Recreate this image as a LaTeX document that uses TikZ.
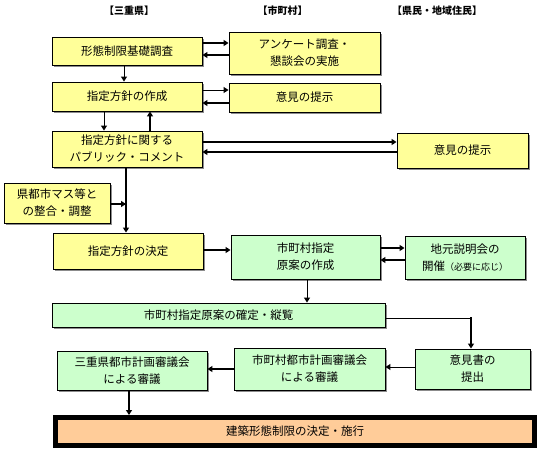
\documentclass[tikz,border=0pt]{standalone}
\usepackage{fontspec}
\newfontfamily\jp{Noto Sans CJK JP}
\usetikzlibrary{arrows.meta,shadows}
\definecolor{ylw}{HTML}{FFFF99}
\definecolor{grn}{HTML}{CCFFCC}
\definecolor{org}{HTML}{FFCC99}
\begin{document}
\begin{tikzpicture}[x=1pt,y=-1pt,
 box/.style={draw=black, line width=0.9pt, align=center, inner sep=0pt,
   font=\jp\fontsize{11.5}{17}\selectfont,
   drop shadow={shadow xshift=2pt, shadow yshift=-2pt, fill=black!45, opacity=1}},
 ybox/.style={box, fill=ylw},
 gbox/.style={box, fill=grn},
 obox/.style={draw=black, line width=5pt, fill=org, align=center, inner sep=0pt,
   font=\jp\fontsize{11.5}{17}\selectfont},
 hdr/.style={font=\jp\bfseries\fontsize{10}{12}\selectfont, inner sep=0pt},
 thk/.style={line width=2.2pt, -{Triangle[length=5pt,width=6pt]}},
 thn/.style={line width=1pt, -{Triangle[length=5pt,width=6pt]}},
 pln/.style={line width=1pt},
]
\useasboundingbox (0,0) rectangle (541,455);
% headers
\node[hdr] (h1) at (129,11) {【三重県】};
\node[hdr] (h2) at (282.5,11) {【市町村】};
\node[hdr] (h3) at (437,11) {【県民・地域住民】};
% boxes
\node[ybox, minimum width=150pt, minimum height=28pt] (b1) at (127,51) {形態制限基礎調査};
\node[ybox, minimum width=150pt, minimum height=29pt] (b2) at (127,96.5) {指定方針の作成};
\node[ybox, minimum width=150pt, minimum height=36pt] (b3) at (127,149) {指定方針に関する\\パブリック・コメント};
\node[ybox, minimum width=151pt, minimum height=42pt] (m1) at (304.5,53) {アンケート調査・\\懇談会の実施};
\node[ybox, minimum width=151pt, minimum height=29pt] (m2) at (304.5,97.5) {意見の提示};
\node[ybox, minimum width=131pt, minimum height=35pt] (r3) at (462.5,150.5) {意見の提示};
\node[ybox, minimum width=106pt, minimum height=40pt] (k) at (57,203) {県都市マス等と\\の整合・調整};
\node[ybox, minimum width=150pt, minimum height=36pt] (b4) at (128,251) {指定方針の決定};
\node[gbox, minimum width=149pt, minimum height=44pt] (g1) at (305.5,257) {市町村指定\\原案の作成};
\node[gbox, minimum width=120pt, minimum height=43pt] (g2) at (465,257.5) {地元説明会の\\開催{\fontsize{9}{17}\selectfont （必要に応じ）}};
\node[gbox, minimum width=333pt, minimum height=24pt] (w) at (218.5,315) {市町村指定原案の確定・縦覧};
\node[gbox, minimum width=150pt, minimum height=39pt] (s1) at (132,370.5) {三重県都市計画審議会\\による審議};
\node[gbox, minimum width=151pt, minimum height=42pt] (s2) at (309.5,369) {市町村都市計画審議会\\による審議};
\node[gbox, minimum width=115pt, minimum height=40pt] (o) at (472.5,369) {意見書の\\提出};
\node[obox, minimum width=479pt, minimum height=28pt] (f) at (295,431.5) {建築形態制限の決定・施行};
% connectors
\draw[thk] (b1.east |- 0,43) -- (m1.west |- 0,43);
\draw[thk] (m1.west |- 0,55) -- (b1.east |- 0,55);
\draw[thn] (b1.south -| 124,0) -- (b2.north -| 124,0);
\draw[thn] (b2.east |- 0,90) -- (m2.west |- 0,90);
\draw[thk] (m2.west |- 0,103) -- (b2.east |- 0,103);
\draw[thn] (b2.south -| 104,0) -- (b3.north -| 104,0);
\draw[thk] (b3.north -| 150,0) -- (b2.south -| 150,0);
\draw[thk] (b3.east |- 0,142) -- (r3.west |- 0,142);
\draw[thk] (r3.west |- 0,152) -- (b3.east |- 0,152);
\coordinate (vx) at (126,204);
\draw[thk] (b3.south -| vx) -- (b4.north -| vx);
\draw[thk] (k.east |- vx) -- (vx);
\draw[thk] (b4.east |- 0,250) -- (g1.west |- 0,250);
\draw[thk] (g1.east |- 0,248) -- (g2.west |- 0,248);
\draw[thk] (g2.west |- 0,260) -- (g1.east |- 0,260);
\draw[thn] (g1.south -| 307,0) -- (w.north -| 307,0);
\coordinate (wo) at (471,318);
\draw[pln] (w.east |- wo) -- (wo);
\draw[thk] ([yshift=0.6pt]wo) -- (o.north -| wo);
\draw[thn] (o.west |- 0,367) -- (s2.east |- 0,367);
\draw[thk] (s2.west |- 0,369) -- (s1.east |- 0,369);
\draw[thk] (s1.south -| 129,0) -- (f.north -| 129,0);
\end{tikzpicture}
\end{document}
